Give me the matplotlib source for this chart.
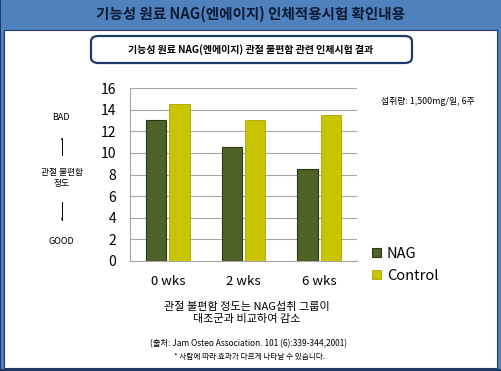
import numpy as np
import matplotlib
matplotlib.use('Agg')
import matplotlib.pyplot as plt
from matplotlib.patches import Rectangle, FancyBboxPatch, FancyArrowPatch

plt.rcParams['font.family'] = ['Noto Sans CJK KR', 'DejaVu Sans']

# dados do gráfico
semanas = ['0 wks', '2 wks', '6 wks']
nag = [13, 10.5, 8.5]
controle = [14.5, 13, 13.5]
series = ['NAG', 'Control']
yticks = [0, 2, 4, 6, 8, 10, 12, 14, 16]

titulo = '기능성 원료 NAG(엔에이지) 인체적용시험 확인내용'
subtitulo = '기능성 원료 NAG(엔에이지) 관절 불편함 관련 인체시험 결과'
dose = '섭취량: 1,500mg/일, 6주'
conclusao = '관절 불편함 정도는 NAG섭취 그룹이\n대조군과 비교하여 감소'
fonte = '(출처: Jam Osteo Association. 101 (6):339-344,2001)'
aviso = '* 사람에 따라 효과가 다르게 나타날 수 있습니다.'

W, H = 502, 371
azul = '#4f81bd'
marinho = '#1f3864'
cor_nag = '#4f6228'
cor_ctrl = '#c8c400'

fig = plt.figure(figsize=(W / 100, H / 100), dpi=100)
fig.patch.set_facecolor('white')


def fx(x):
    return x / W


def fy(y):
    # y em pixels a partir do topo
    return 1 - y / H


def caixa(x0, y0, x1, y1, **kw):
    r = Rectangle((fx(x0), fy(y1)), fx(x1 - x0), (y1 - y0) / H,
                  transform=fig.transFigure, **kw)
    fig.patches.append(r)


# moldura azul e faixa de título
caixa(0, 0, W, H, facecolor=marinho, edgecolor='none', zorder=-3)
caixa(1, 0, W - 1, H - 2, facecolor=azul, edgecolor='none', zorder=-2)
caixa(4, 30, 497, 368, facecolor='white', edgecolor=marinho, linewidth=0.8, zorder=-1)

fig.text(fx(251), fy(14), titulo, ha='center', va='center', fontsize=10.5,
         fontweight='bold', color='#0d1a33')

# caixa do subtítulo
box = FancyBboxPatch((fx(91), fy(63)), fx(321), 27 / H,
                     boxstyle='round,pad=0,rounding_size=0.015',
                     transform=fig.transFigure, facecolor='white',
                     edgecolor=marinho, linewidth=1.6, zorder=1)
fig.patches.append(box)
fig.text(fx(251), fy(50), subtitulo, ha='center', va='center', fontsize=7.2,
         fontweight='bold', color='black')

# eixo principal
ax = fig.add_axes([fx(130), fy(261), fx(227), 173 / H])
ax.set_zorder(5)
ax.patch.set_alpha(0)
x = np.arange(len(semanas)) + 0.5
larg = 0.27
ax.bar(x - 0.153, nag, larg, color=cor_nag, edgecolor='#2c3a14', linewidth=0.8,
       label=series[0], zorder=3)
ax.bar(x + 0.153, controle, larg, color=cor_ctrl, edgecolor='#a9a400', linewidth=0.6,
       label=series[1], zorder=3)
ax.set_xlim(0, 3)
ax.set_ylim(0, 16)
ax.set_yticks(yticks)
ax.set_xticks(x)
ax.set_xticklabels(semanas)
ax.grid(axis='y', color='#a6a6a6', linewidth=0.8, zorder=0)
for s in ['top', 'right']:
    ax.spines[s].set_visible(False)
for s in ['left', 'bottom']:
    ax.spines[s].set_color('#a6a6a6')
    ax.spines[s].set_linewidth(0.8)
ax.tick_params(axis='y', length=0, labelsize=10, pad=10)
ax.tick_params(axis='x', length=0, labelsize=9.5, pad=10)

leg = ax.legend(loc='lower left', bbox_to_anchor=(fx(365), fy(290)),
                bbox_transform=fig.transFigure, frameon=False, fontsize=10.5,
                handlelength=0.6, handleheight=0.6, handletextpad=0.4,
                labelspacing=0.55, borderpad=0)

# texto lateral esquerdo
fig.text(fx(61), fy(118), 'BAD', ha='center', va='center', fontsize=6.5)
fig.text(fx(62), fy(178), '관절 불편함\n정도', ha='center', va='center',
         fontsize=6.3, linespacing=1.2)
fig.text(fx(61), fy(241), 'GOOD', ha='center', va='center', fontsize=6.5)
seta = dict(arrowstyle='-|>,head_length=0.35,head_width=0.12', color='black', lw=0.7)
fig.add_artist(plt.Line2D([fx(62), fx(62)], [fy(138), fy(155)], color='black', lw=0.7))
fig.add_artist(plt.Line2D([fx(62), fx(62)], [fy(202), fy(220)], color='black', lw=0.7))
fig.add_artist(FancyArrowPatch((fx(62), fy(142)), (fx(62), fy(135)),
                               transform=fig.transFigure, **seta))
fig.add_artist(FancyArrowPatch((fx(62), fy(216)), (fx(62), fy(223)),
                               transform=fig.transFigure, **seta))

fig.text(fx(428), fy(101), dose, ha='center', va='center', fontsize=6.4)

fig.text(fx(247), fy(313), conclusao, ha='center', va='center', fontsize=8,
         linespacing=1.2)
fig.text(fx(249), fy(344), fonte, ha='center', va='center', fontsize=6)
fig.text(fx(250), fy(357), aviso, ha='center', va='center', fontsize=5.5)

fig.savefig('out.png', dpi=100)
